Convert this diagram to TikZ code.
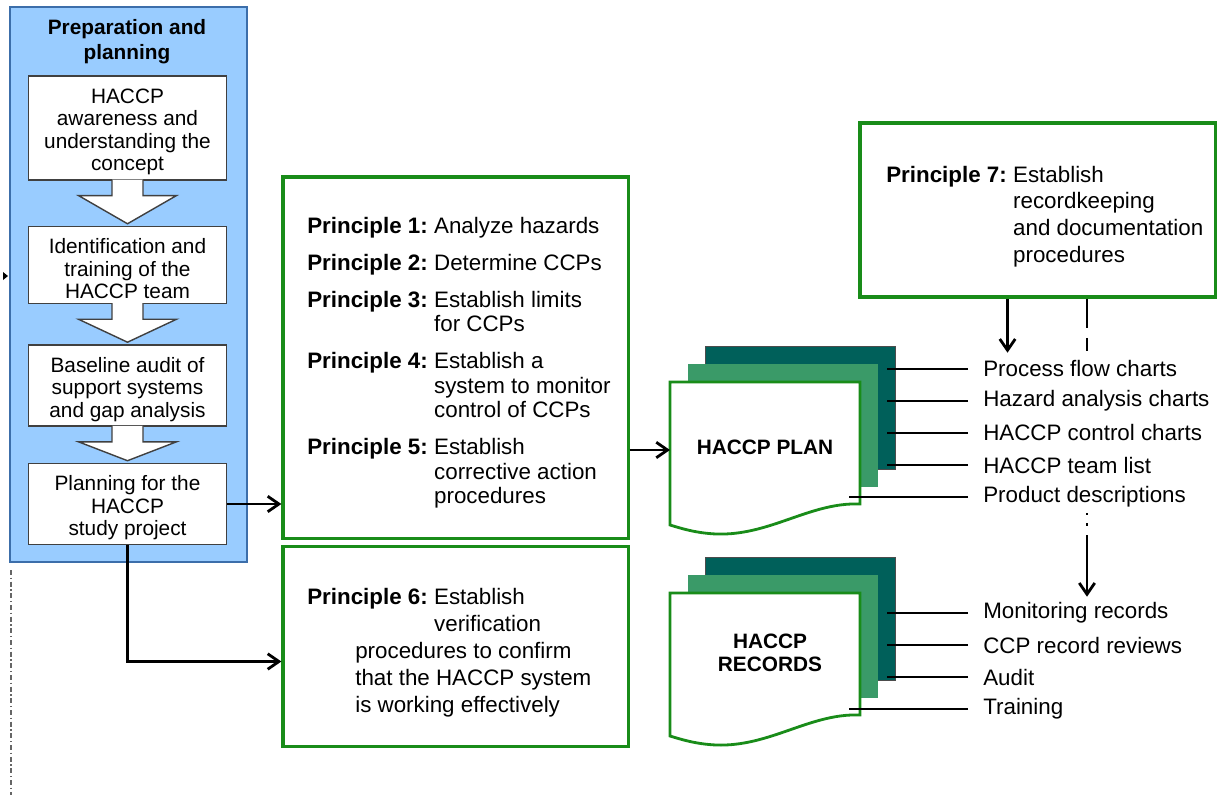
\documentclass[tikz,border=0pt]{standalone}
\usepackage{fontspec}
\setmainfont{Liberation Sans}
\definecolor{panelblue}{RGB}{153, 204, 255}
\definecolor{paneledge}{RGB}{60, 110, 170}
\definecolor{boxgreen}{RGB}{25, 140, 25}
\definecolor{sheetteal}{RGB}{0, 96, 90}
\definecolor{sheetgreen}{RGB}{58, 154, 104}
\usetikzlibrary{arrows.meta, positioning, calc}
\newcommand{\bigtext}{\fontsize{15.9}{17.4}\selectfont}
\newcommand{\smalltext}{\fontsize{14.8}{16}\selectfont}
\tikzset{
  stepbox/.style={draw=black!75, fill=white, line width=1pt, minimum width=4.95cm, align=center, font=\smalltext},
  blockarr/.style={draw=black!75, fill=white, line width=1pt},
  pbox/.style={draw=boxgreen, fill=white, line width=2.2pt},
  ptext/.style={anchor=base west, inner sep=0pt, font=\bigtext},
  arr/.style={-{Straight Barb[length=8pt, width=11pt]}, line width=2pt},
  leader/.style={line width=1.8pt},
  listitem/.style={anchor=west, fill=white, inner xsep=0.375cm, minimum height=0.8cm, font=\bigtext},
  doclabel/.style={font=\bfseries\smalltext, align=center}
}

\begin{document}
\begin{tikzpicture}[x=0.025cm, y=-0.025cm]
  \useasboundingbox (0,0) rectangle (1217,797);

  \node[draw=paneledge, fill=panelblue, line width=2pt, minimum width=5.925cm, minimum height=13.875cm] (prep) at (128.5,284.5) {};
  \node[font=\bfseries\fontsize{14.8}{17.8}\selectfont, align=center] (title) at (127,42) {Preparation and\\planning};
  \node[stepbox, minimum height=2.4cm] (aware) at (127.5,128) {\rule{0pt}{16pt}HACCP\\awareness and\\understanding the\\concept};
  \node[stepbox, minimum height=1.9cm] (team) at (127.5,265) {\rule{0pt}{16pt}Identification and\\training of the\\HACCP team};
  \node[stepbox, minimum height=1.925cm] (base) at (127.5,385.5) {\rule{0pt}{16pt}Baseline audit of\\support systems\\and gap analysis};
  \node[stepbox, minimum height=2cm] (study) at (127.5,504) {\rule{0pt}{16pt}Planning for the\\HACCP\\study project};
  \foreach \a/\b in {aware/team, team/base, base/study}
    \filldraw[blockarr] ($(\a.south)+(-15.5,-1)$) -- ($(\a.south)+(-15.5,15)$) -- ($(\a.south)+(-49,15)$) -- ($(\b.north)+(0,-2)$) -- ($(\a.south)+(49,15)$) -- ($(\a.south)+(15.5,15)$) -- ($(\a.south)+(15.5,-1)$);

  \fill (3,272) -- (8,276) -- (3,280) -- cycle;
  \draw[black!60, line width=1pt, dash pattern=on 3.5pt off 1.9pt on 1pt off 1.9pt] (11,570) -- (11,795);

  \node[pbox, minimum width=8.625cm, minimum height=9.025cm] (pr15) at (455.5,357.5) {};
  \node[ptext] (pr15txt) at (307,233) {\begin{tabular}[t]{@{}l@{\hspace{4.5pt}}l@{}}
    \textbf{Principle 1:} & Analyze hazards\\[9pt]
    \textbf{Principle 2:} & Determine CCPs\\[9pt]
    \textbf{Principle 3:} & Establish limits\\
                          & for CCPs\\[9pt]
    \textbf{Principle 4:} & Establish a\\
                          & system to monitor\\
                          & control of CCPs\\[9pt]
    \textbf{Principle 5:} & Establish\\
                          & corrective action\\
                          & procedures
  \end{tabular}};
  \node[pbox, minimum width=8.625cm, minimum height=5cm] (pr6) at (455.5,646.5) {};
  \node[ptext, font=\fontsize{15.9}{19.2}\selectfont] (pr6txt) at (307,604) {\begin{tabular}[t]{@{}l@{\hspace{4.5pt}}l@{}}
    \textbf{Principle 6:} & Establish\\
                          & verification\\
    \multicolumn{2}{@{\hspace{1.2cm}}l@{}}{procedures to confirm}\\
    \multicolumn{2}{@{\hspace{1.2cm}}l@{}}{that the HACCP system}\\
    \multicolumn{2}{@{\hspace{1.2cm}}l@{}}{is working effectively}
  \end{tabular}};
  \node[pbox, minimum width=8.875cm, minimum height=4.35cm] (pr7) at (1037.5,210) {};
  \node[ptext, font=\fontsize{15.9}{19}\selectfont] (pr7txt) at (886,182) {\begin{tabular}[t]{@{}l@{\hspace{4.5pt}}l@{}}
    \textbf{Principle 7:} & Establish\\
                          & recordkeeping\\
                          & and documentation\\
                          & procedures
  \end{tabular}};

  \foreach \d/\oy in {plan/382, rec/593} {
    \begin{scope}[shift={(670,\oy)}]
      \filldraw[fill=sheetteal, draw=black!70, line width=0.5pt] (35,-36) rectangle (225,87);
      \fill[sheetgreen] (18,-18) rectangle (208,105);
      \filldraw[fill=white, draw=boxgreen, line width=2pt] (0,0) -- (190,0) -- (190,122) .. controls (140,120) and (100,154) .. (46,152) .. controls (25,151) and (10,146) .. (0,143) -- cycle;
      \coordinate (\d-w) at (0,68);
      \coordinate (\d-t) at (217,0);
      \coordinate (\d-f) at (179,0);
    \end{scope}
  }
  \node[doclabel] (plan) at (765,447) {HACCP PLAN};
  \node[doclabel] (rec) at (770,653) {HACCP\\RECORDS};

  \node[listitem] (pfc) at (968,369) {Process flow charts};
  \node[listitem] (hac) at (968,401) {Hazard analysis charts};
  \node[listitem] (ccc) at (968,433) {HACCP control charts};
  \node[listitem] (tl) at (968,465) {HACCP team list};
  \node[listitem] (pd) at (968,497) {Product descriptions};
  \node[listitem] (mon) at (968,613) {Monitoring records};
  \node[listitem] (ccp) at (968,645) {CCP record reviews};
  \node[listitem] (aud) at (968,677) {Audit};
  \node[listitem] (trn) at (968,709) {Training};

  \foreach \n in {pfc, hac, ccc, tl}
    \draw[leader] (\n.west) -- (\n.west -| plan-t);
  \draw[leader] (pd.west) -- (pd.west -| plan-f);
  \foreach \n in {mon, ccp, aud}
    \draw[leader] (\n.west) -- (\n.west -| rec-t);
  \draw[leader] (trn.west) -- (trn.west -| rec-f);

  \draw[arr] (study.east) -- (study.east -| pr15.west);
  \draw[arr] (study.south) |- ($(pr6.west)+(0,15)$);
  \draw[arr] (pr15.east |- plan-w) -- (plan-w);

  \coordinate (k1) at ($(pr7.south)+(-30,0)$);
  \coordinate (k2) at ($(pr7.south)+(49.5,0)$);
  \draw[arr] (k1) -- (k1 |- pfc.north);
  \draw[line width=2pt, dash pattern=on 21pt off 7pt on 9pt off 7pt] (k2) -- (k2 |- pfc.north);
  \draw[arr, dash pattern=on 1.5pt off 5.7pt on 1.5pt off 7pt on 100pt off 1pt] (k2 |- pd.south) -- (k2 |- mon.north);
\end{tikzpicture}
\end{document}
